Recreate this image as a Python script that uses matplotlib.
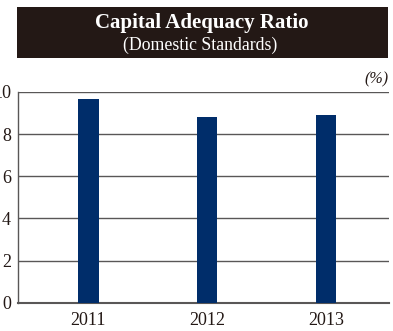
import matplotlib
matplotlib.use("Agg")
import matplotlib.pyplot as plt
from matplotlib.patches import Rectangle

years = ["2011", "2012", "2013"]
ratios = [9.65, 8.81, 8.91]
yticks = [0, 2, 4, 6, 8, 10]

plt.rcParams['font.family'] = ['Liberation Serif', 'DejaVu Serif']

W, H = 393, 331
fig = plt.figure(figsize=(W / 100, H / 100), dpi=100)

# title box
fig.patches.append(Rectangle((17 / W, 1 - 58 / H), (388 - 17) / W, (58 - 7) / H,
                             transform=fig.transFigure, facecolor="#231815",
                             edgecolor="none", zorder=0))
fig.text(202 / W, 1 - 23 / H, "Capital Adequacy Ratio", color="white",
         fontsize=15, fontweight="bold", ha="center", va="center")
fig.text(200 / W, 1 - 45 / H, "(Domestic Standards)", color="white",
         fontsize=12.8, ha="center", va="center")

left, right, top, bottom = 18, 389, 92, 302.7
ax = fig.add_axes([left / W, 1 - bottom / H, (right - left) / W, (bottom - top) / H])

x = list(range(len(years)))
ax.bar(x, ratios, width=0.175, color="#002d6a", zorder=3)
ax.set_xlim(-0.59, 2.53)
ax.set_ylim(0, 10)
ax.set_yticks(yticks)
ax.set_yticklabels([str(t) for t in yticks])
ax.set_xticks(x)
ax.set_xticklabels(years)
ax.tick_params(axis="both", length=0, labelsize=13, colors="#231815")
ax.tick_params(axis="y", pad=5)
ax.tick_params(axis="x", pad=7)
ax.yaxis.grid(True, color="#595757", linewidth=1.0, zorder=1)
for s in ["top", "right"]:
    ax.spines[s].set_visible(False)
ax.spines["left"].set_color("#595757")
ax.spines["bottom"].set_color("#595757")
ax.spines["left"].set_linewidth(1.0)
ax.spines["bottom"].set_linewidth(1.5)
ax.text(1.0, 1.02, "(%)", transform=ax.transAxes, ha="right", va="bottom",
        fontsize=11.5, fontstyle="italic", color="#231815")

fig.savefig("out.png", dpi=100)
